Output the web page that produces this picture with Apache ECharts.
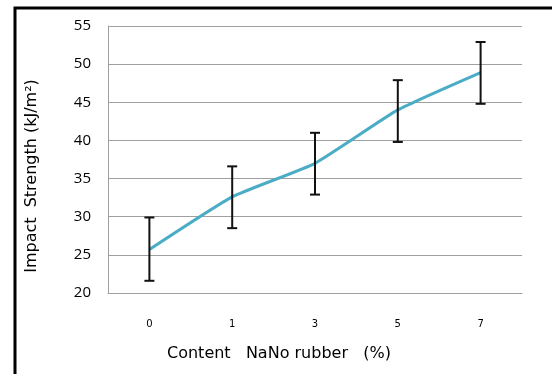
<!DOCTYPE html>
<html><head><meta charset="utf-8">
<script src="https://cdn.jsdelivr.net/npm/echarts@6/dist/echarts.min.js"></script>
<style>html,body{margin:0;padding:0;background:#fff}#c{width:552px;height:374px}</style>
</head><body><div id="c"></div>
<script>
var categories = ['0', '1', '3', '5', '7'];
var strength = [25.7, 32.6, 37.0, 44.0, 48.9];
var errLow = [21.6, 28.5, 32.9, 39.8, 44.8];
var errHigh = [29.9, 36.6, 41.0, 47.9, 52.9];
var yTicks = [20, 25, 30, 35, 40, 45, 50, 55];
var xTitle = 'Content   NaNo rubber   (%)';
var yTitle = 'Impact  Strength (kJ/m²)';

var chart = echarts.init(document.getElementById('c'));
var errData = categories.map(function (c, i) { return [i, errLow[i], errHigh[i]]; });
chart.setOption({
  animation: false,
  graphic: [{
    type: 'rect', z: 100, silent: true,
    shape: { x: 15, y: 8, width: 700, height: 500 },
    style: { fill: 'none', stroke: '#000', lineWidth: 3 }
  }, {
    type: 'text', left: 167, top: 346,
    style: { text: xTitle, fill: '#000', font: '16px "DejaVu Sans"' }
  }, {
    type: 'text', x: 32, y: 176, rotation: Math.PI / 2,
    style: { text: yTitle, fill: '#000', font: '16px "DejaVu Sans"', align: 'center', verticalAlign: 'middle' }
  }],
  grid: { left: 108, top: 26, right: 30, bottom: 81 },
  xAxis: {
    type: 'category', data: categories, boundaryGap: true,
    axisLine: { show: true, lineStyle: { color: '#a0a0a0', width: 1 } },
    axisTick: { show: false },
    axisLabel: { color: '#000', fontSize: 10, fontFamily: 'DejaVu Sans', margin: 26 }
  },
  yAxis: {
    type: 'value', min: 20, max: 55, interval: 5,
    axisLine: { show: true, lineStyle: { color: '#a0a0a0', width: 1 } },
    axisTick: { show: false },
    splitLine: { lineStyle: { color: '#a0a0a0', width: 1 } },
    axisLabel: { color: '#000', fontSize: 15, fontFamily: 'Open Sans', margin: 17,
      formatter: function (v) { return yTicks.indexOf(v) >= 0 ? String(v) : ''; } }
  },
  series: [{
    type: 'line', data: strength, smooth: 0.15, symbol: 'none', z: 3,
    lineStyle: { color: '#4bacc6', width: 3 }
  }, {
    type: 'custom', data: errData, z: 4,
    renderItem: function (params, api) {
      var lo = api.coord([api.value(0), api.value(1)]);
      var hi = api.coord([api.value(0), api.value(2)]);
      var w = 5;
      var st = { stroke: '#111', lineWidth: 2, fill: 'none' };
      return { type: 'group', children: [
        { type: 'line', shape: { x1: lo[0], y1: lo[1], x2: hi[0], y2: hi[1] }, style: st },
        { type: 'line', shape: { x1: lo[0] - w, y1: lo[1], x2: lo[0] + w, y2: lo[1] }, style: st },
        { type: 'line', shape: { x1: hi[0] - w, y1: hi[1], x2: hi[0] + w, y2: hi[1] }, style: st }
      ] };
    }
  }]
});
</script></body></html>
